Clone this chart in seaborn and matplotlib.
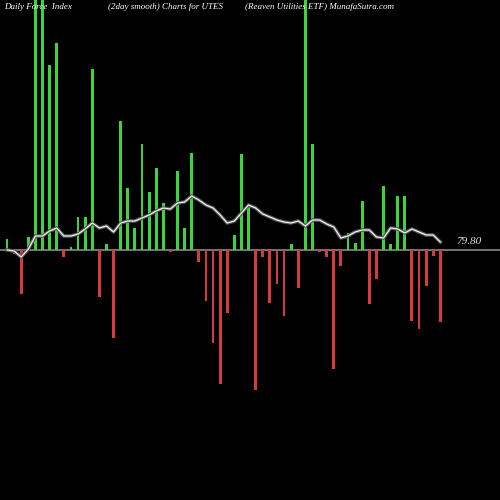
import numpy as np
import pandas as pd
import matplotlib
matplotlib.use("Agg")
import matplotlib.pyplot as plt
import seaborn as sns

# force index values (scaled), one per day
force = [11, -4, -44, 13, 260, 260, 185, 207, -7, 3, 33, 33, 181, -47, 6, -88,
         129, 62, 22, 106, 58, 82, 47, -2, 79, 22, 97, -12, -51, -93, -134, -63,
         15, 96, 46, -140, -7, -53, -34, -66, 6, -38, 260, 106, -2, -7, -119, -16,
         17, 7, 49, -54, -29, 64, 6, 54, 54, -71, -79, -36, -6, -72]
# 2 day smoothed line
smooth = [0, -1, -7, 1, 14, 14, 19, 22, 14, 14, 16, 21, 27, 22, 24, 18,
          27, 29, 29, 32, 35, 39, 42, 41, 47, 48, 54, 50, 45, 42, 35, 27,
          29, 37, 45, 42, 36, 33, 30, 28, 27, 29, 24, 30, 30, 26, 23, 12,
          14, 18, 20, 20, 13, 12, 22, 21, 17, 21, 18, 15, 15, 8]
last_label = "79.80"

n = len(force)
df = pd.DataFrame({"day": np.arange(n), "force": force,
                   "sign": ["up" if v >= 0 else "down" for v in force]})
sm = pd.DataFrame({"day": np.arange(len(smooth)), "val": smooth})

fig = plt.figure(figsize=(5, 5), dpi=100, facecolor="black")
ax = fig.add_axes([0, 0, 1, 1])
ax.set_facecolor("black")

ax.axhline(0, color="#888888", lw=1.2, zorder=1)
sns.barplot(data=df, x="day", y="force", hue="sign", native_scale=True,
            palette={"up": "#22ee22", "down": "#ee2222"}, width=0.4,
            legend=False, ax=ax, zorder=2)
sns.lineplot(data=sm, x="day", y="val", color="#555555", lw=2.6, ax=ax, zorder=3)
sns.lineplot(data=sm, x="day", y="val", color="#f0f0f0", lw=0.9, ax=ax, zorder=4)

ax.set_xlim(-0.99, 69.4)
ax.set_ylim(-250, 250)
ax.axis("off")

font = dict(color="white", fontsize=6.5, family="Liberation Serif", style="italic",
            transform=fig.transFigure, va="center")
fig.text(0.008, 0.986, "Daily Force  Index", **font)
fig.text(0.216, 0.986, "(2day smooth) Charts for UTES", **font)
fig.text(0.49, 0.986, "(Reaven Utilities ETF) MunafaSutra.com", **font)
ax.text(n - 1 + 2.2, smooth[-1] + 1, last_label, color="#dddddd", fontsize=8,
        family="Liberation Serif", style="italic", va="center")

fig.savefig("out.png", dpi=100, facecolor="black")
